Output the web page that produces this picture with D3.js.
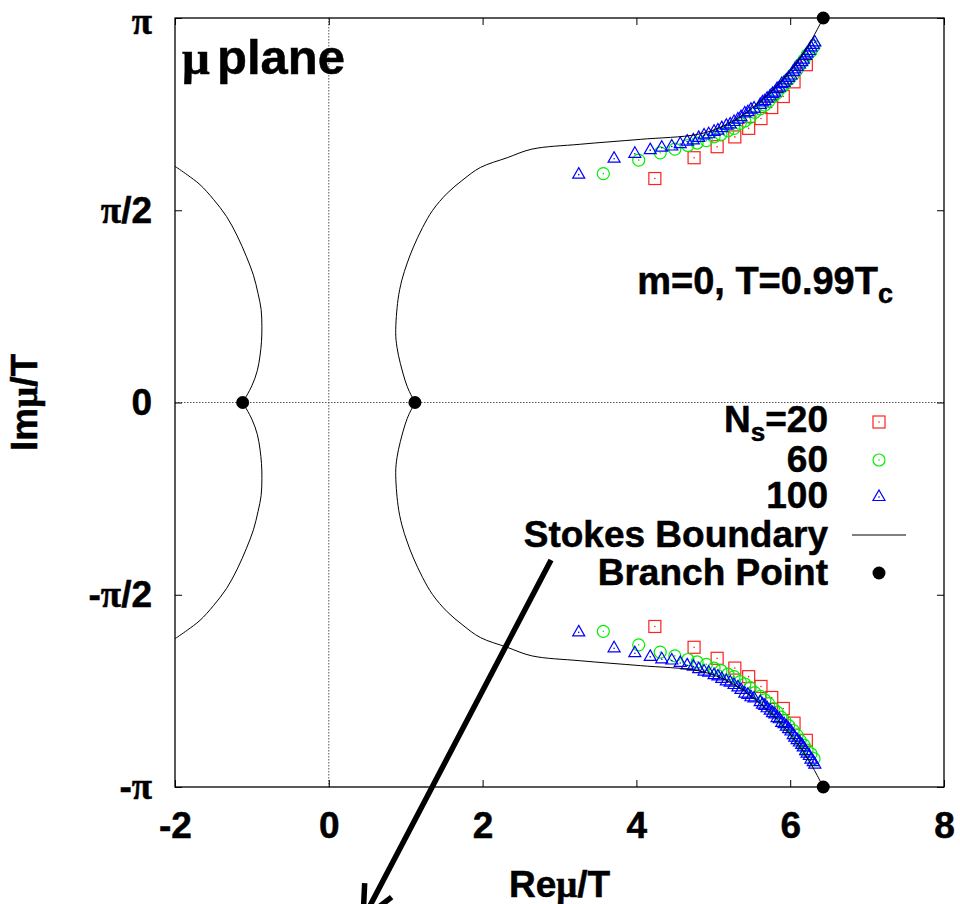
<!DOCTYPE html>
<html>
<head>
<meta charset="utf-8">
<script src="https://cdn.jsdelivr.net/npm/d3@7"></script>
<style>
  body { margin: 0; background: #fff; }
  svg { display: block; }
  text { font-family: "Liberation Sans", Arial, Helvetica, sans-serif; font-weight: bold; fill: #000; stroke: #000; stroke-width: 0.5px; }
  .greek { font-family: "Liberation Serif", "DejaVu Serif", serif; font-weight: bold; }
</style>
</head>
<body>
<svg id="chart" width="960" height="904"></svg>
<script>
// ---- axes ----
const xDomain = [-2, 8];
const xTicks = [-2, 0, 2, 4, 6, 8];
const xTickLabels = ["-2", "0", "2", "4", "6", "8"];
const yTicks = [-Math.PI, -Math.PI / 2, 0, Math.PI / 2, Math.PI];
const yTickLabels = ["-π", "-π/2", "0", "π/2", "π"];

// ---- Lee-Yang zeros in the upper half plane (conjugates are drawn below) ----
const ns20Re = [4.24, 4.75, 5.05, 5.28, 5.46, 5.62, 5.76, 5.91, 6.05, 6.21];
const ns20Im = [1.83, 2.00, 2.09, 2.17, 2.24, 2.32, 2.41, 2.50, 2.62, 2.76];

const ns60Re = [3.57, 4.03, 4.31, 4.50, 4.67, 4.79, 4.91, 5.01, 5.10, 5.19,
                5.27, 5.35, 5.41, 5.48, 5.54, 5.61, 5.67, 5.72, 5.78, 5.83,
                5.88, 5.93, 5.98, 6.04, 6.09, 6.13, 6.18, 6.22, 6.27, 6.31];
const ns60Im = [1.87, 1.98, 2.04, 2.07, 2.10, 2.12, 2.14, 2.17, 2.19, 2.22,
                2.24, 2.28, 2.30, 2.33, 2.37, 2.40, 2.43, 2.46, 2.50, 2.53,
                2.57, 2.60, 2.64, 2.68, 2.72, 2.76, 2.80, 2.84, 2.87, 2.91];

const ns100Re = [3.25, 3.71, 3.98, 4.18, 4.33, 4.46, 4.57, 4.66, 4.74, 4.81,
                 4.88, 4.94, 5.01, 5.06, 5.11, 5.17, 5.22, 5.27, 5.32, 5.36,
                 5.41, 5.45, 5.49, 5.53, 5.61, 5.64, 5.67, 5.70, 5.74, 5.77,
                 5.80, 5.83, 5.86, 5.89, 5.92, 5.95, 5.98, 6.01, 6.04, 6.06,
                 6.09, 6.12, 6.15, 6.17, 6.20, 6.22, 6.25, 6.27, 6.30, 6.32];
const ns100Im = [1.87, 2.00, 2.04, 2.07, 2.09, 2.10, 2.12, 2.14, 2.15, 2.17,
                 2.19, 2.20, 2.22, 2.23, 2.25, 2.27, 2.28, 2.30, 2.32, 2.34,
                 2.37, 2.38, 2.40, 2.41, 2.44, 2.46, 2.47, 2.49, 2.51, 2.53,
                 2.54, 2.57, 2.58, 2.61, 2.62, 2.64, 2.66, 2.68, 2.71, 2.73,
                 2.75, 2.77, 2.79, 2.81, 2.84, 2.86, 2.88, 2.91, 2.93, 2.95];

// ---- Stokes boundary, upper branches (mirrored for Im < 0) ----
const stokesRightRe = [1.12, 1.02, 0.93, 0.887, 0.87, 0.90, 0.95, 1.02, 1.10, 1.22,
                       1.35, 1.54, 1.745, 1.97, 2.32, 2.64, 3.27, 4.05, 4.79, 5.10,
                       5.39, 5.57, 5.80, 6.04, 6.22, 6.43];
const stokesRightIm = [0, 0.13, 0.32, 0.45, 0.57, 0.84, 1.00, 1.14, 1.27, 1.43,
                       1.57, 1.71, 1.82, 1.92, 2.00, 2.07, 2.11, 2.15, 2.19, 2.25,
                       2.35, 2.44, 2.57, 2.74, 2.90, Math.PI];
const stokesLeftRe = [-1.12, -1.00, -0.93, -0.895, -0.875, -0.87, -0.88, -0.92, -0.98,
                      -1.07, -1.19, -1.33, -1.50, -1.675, -1.84, -2.0];
const stokesLeftIm = [0, 0.137, 0.26, 0.38, 0.50, 0.62, 0.76, 0.89, 1.04,
                      1.19, 1.36, 1.52, 1.66, 1.78, 1.86, 1.93];

// ---- branch points ----
const branchRe = [-1.12, 1.12, 6.43, 6.43];
const branchIm = [0, 0, Math.PI, -Math.PI];

// ---- annotation arrow (start, tip) in plot units ----
const arrowRe = [2.89, 0.445];
const arrowIm = [-1.287, -4.22];

// ---- legend ----
const legendLabels = ["60", "100", "Stokes Boundary", "Branch Point"];

// ================= drawing =================
const svg = d3.select("#chart");
const M = { left: 175, top: 18, right: 944, bottom: 787 };
const SERIF = '"Liberation Serif", "DejaVu Serif", serif';
const SANS = '"Liberation Sans", Arial, sans-serif';

const x = d3.scaleLinear().domain(xDomain).range([M.left, M.right]);
const y = d3.scaleLinear().domain([-Math.PI, Math.PI]).range([M.bottom, M.top]);

const zip = (re, im) => re.map((r, i) => [r, im[i]]);
const withConjugates = (re, im) => {
  const up = zip(re, im);
  return up.concat(up.map(([r, v]) => [r, -v]));
};

// zero axes (dotted)
svg.append("line")
  .attr("x1", x(0)).attr("x2", x(0)).attr("y1", M.top).attr("y2", M.bottom)
  .attr("stroke", "#555").attr("stroke-width", 1).attr("stroke-dasharray", "1.5,1.5");
svg.append("line")
  .attr("x1", M.left).attr("x2", M.right).attr("y1", y(0)).attr("y2", y(0))
  .attr("stroke", "#555").attr("stroke-width", 1).attr("stroke-dasharray", "1.5,1.5");

// axes with inward ticks
const fontPx = 37;
const xAxis = d3.axisBottom(x).tickValues(xTicks).tickSize(-7).tickPadding(25)
  .tickFormat((d, i) => xTickLabels[i]);
const gx = svg.append("g").attr("transform", `translate(0,${M.bottom})`).call(xAxis);
const xTop = svg.append("g").attr("transform", `translate(0,${M.top})`)
  .call(d3.axisTop(x).tickValues(xTicks).tickSize(-7).tickFormat(""));
const yAxis = d3.axisLeft(y).tickValues(yTicks).tickSize(-7).tickPadding(23).tickFormat("");
const gy = svg.append("g").attr("transform", `translate(${M.left},0)`).call(yAxis);
const yRight = svg.append("g").attr("transform", `translate(${M.right},0)`)
  .call(d3.axisRight(y).tickValues(yTicks).tickSize(-7).tickFormat(""));

[gx, xTop, gy, yRight].forEach(g => {
  g.select(".domain").remove();
  g.selectAll(".tick line").attr("stroke", "#000").attr("stroke-width", 1);
});
gx.selectAll(".tick text")
  .attr("font-size", fontPx).attr("font-family", null).attr("fill", "#000")
  .style("font-family", SANS).style("font-weight", "bold");

// y tick labels with the Greek pi set in a serif face
gy.selectAll(".tick text").each(function (d, i) {
  const t = d3.select(this)
    .attr("font-size", fontPx).attr("font-family", null).attr("fill", "#000")
    .attr("dy", i === 4 ? "0.42em" : "0.32em")
    .style("font-family", SANS).style("font-weight", "bold")
    .text(null);
  yTickLabels[i].split(/(π)/).filter(s => s.length).forEach(part => {
    const ts = t.append("tspan").text(part);
    if (part === "π") ts.attr("class", "greek").style("font-family", SERIF);
  });
});

// frame
svg.append("rect")
  .attr("x", M.left).attr("y", M.top)
  .attr("width", M.right - M.left).attr("height", M.bottom - M.top)
  .attr("fill", "none").attr("stroke", "#000").attr("stroke-width", 1.3);

// markers
const plot = svg.append("g");
function drawSquares(pts, color) {
  const g = plot.append("g");
  g.selectAll("rect").data(pts).join("rect")
    .attr("x", d => x(d[0]) - 6).attr("y", d => y(d[1]) - 6)
    .attr("width", 12).attr("height", 12)
    .attr("fill", "none").attr("stroke", color).attr("stroke-width", 1.2);
  g.selectAll("circle").data(pts).join("circle")
    .attr("cx", d => x(d[0])).attr("cy", d => y(d[1])).attr("r", 0.8).attr("fill", color);
}
function drawCircles(pts, color) {
  const g = plot.append("g");
  g.selectAll("circle.o").data(pts).join("circle").attr("class", "o")
    .attr("cx", d => x(d[0])).attr("cy", d => y(d[1])).attr("r", 6)
    .attr("fill", "none").attr("stroke", color).attr("stroke-width", 1.2);
  g.selectAll("circle.c").data(pts).join("circle").attr("class", "c")
    .attr("cx", d => x(d[0])).attr("cy", d => y(d[1])).attr("r", 0.8).attr("fill", color);
}
function drawTriangles(pts, color) {
  const g = plot.append("g");
  g.selectAll("path").data(pts).join("path")
    .attr("d", d => `M${x(d[0])},${y(d[1]) - 6}l6,10.5h-12z`)
    .attr("fill", "none").attr("stroke", color).attr("stroke-width", 1.2);
  g.selectAll("circle").data(pts).join("circle")
    .attr("cx", d => x(d[0])).attr("cy", d => y(d[1]) + 1).attr("r", 0.8).attr("fill", color);
}
drawSquares(withConjugates(ns20Re, ns20Im), "#ff2020");
drawCircles(withConjugates(ns60Re, ns60Im), "#00ee00");
drawTriangles(withConjugates(ns100Re, ns100Im), "#0000ff");

// Stokes boundary
const line = d3.line().x(d => x(d[0])).y(d => y(d[1])).curve(d3.curveCatmullRom.alpha(0.5));
const right = zip(stokesRightRe, stokesRightIm);
const left = zip(stokesLeftRe, stokesLeftIm);
[right, right.map(([r, v]) => [r, -v]), left, left.map(([r, v]) => [r, -v])].forEach(pts => {
  plot.append("path").attr("d", line(pts))
    .attr("fill", "none").attr("stroke", "#000").attr("stroke-width", 1);
});

// branch points
plot.selectAll("circle.bp").data(zip(branchRe, branchIm)).join("circle").attr("class", "bp")
  .attr("cx", d => x(d[0])).attr("cy", d => y(d[1])).attr("r", 6.5).attr("fill", "#000");

// text labels
svg.append("text").attr("x", 182).attr("y", 74).attr("font-size", 49)
  .call(t => {
    t.append("tspan").attr("class", "greek").style("font-family", SERIF).text("μ");
    t.append("tspan").attr("x", 217).text("plane");
  });

svg.append("text").attr("x", 893).attr("y", 294).attr("font-size", 38).attr("text-anchor", "end")
  .call(t => {
    t.append("tspan").text("m=0, T=0.99T");
    t.append("tspan").attr("font-size", 27).attr("dy", 9).text("c");
  });

// axis titles
svg.append("text").attr("x", (M.left + M.right) / 2).attr("y", 897)
  .attr("font-size", fontPx).attr("text-anchor", "middle")
  .call(t => {
    t.append("tspan").text("Re");
    t.append("tspan").attr("class", "greek").style("font-family", SERIF).text("μ");
    t.append("tspan").text("/T");
  });
svg.append("text").attr("transform", `translate(37,${(M.top + M.bottom) / 2}) rotate(-90)`)
  .attr("font-size", fontPx).attr("text-anchor", "middle")
  .call(t => {
    t.append("tspan").text("Im");
    t.append("tspan").attr("class", "greek").style("font-family", SERIF).text("μ");
    t.append("tspan").text("/T");
  });

// legend
const lg = svg.append("g");
const textRight = 828, symX = 879;
const rowY = [422, 460, 496, 535, 573];
lg.append("text").attr("x", textRight).attr("y", rowY[0] + 10).attr("font-size", fontPx).attr("text-anchor", "end")
  .call(t => {
    t.append("tspan").text("N");
    t.append("tspan").attr("font-size", 26).attr("dy", 9).text("s");
    t.append("tspan").attr("dy", -9).text("=20");
  });
legendLabels.forEach((lab, i) => {
  lg.append("text").attr("x", textRight).attr("y", rowY[i + 1] + 12)
    .attr("font-size", fontPx).attr("text-anchor", "end").text(lab);
});
lg.append("rect").attr("x", symX - 6).attr("y", rowY[0] - 6).attr("width", 12).attr("height", 12)
  .attr("fill", "none").attr("stroke", "#ff2020").attr("stroke-width", 1.2);
lg.append("circle").attr("cx", symX).attr("cy", rowY[0]).attr("r", 0.8).attr("fill", "#ff2020");
lg.append("circle").attr("cx", symX).attr("cy", rowY[1]).attr("r", 6)
  .attr("fill", "none").attr("stroke", "#00ee00").attr("stroke-width", 1.2);
lg.append("circle").attr("cx", symX).attr("cy", rowY[1]).attr("r", 0.8).attr("fill", "#00ee00");
lg.append("path").attr("d", `M${symX},${rowY[2] - 6}l6,10.5h-12z`)
  .attr("fill", "none").attr("stroke", "#0000ff").attr("stroke-width", 1.2);
lg.append("circle").attr("cx", symX).attr("cy", rowY[2] + 1).attr("r", 0.8).attr("fill", "#0000ff");
lg.append("line").attr("x1", 852).attr("x2", 906).attr("y1", rowY[3]).attr("y2", rowY[3])
  .attr("stroke", "#000").attr("stroke-width", 1);
lg.append("circle").attr("cx", symX).attr("cy", rowY[4]).attr("r", 6.5).attr("fill", "#000");

// annotation arrow
const a0 = [x(arrowRe[0]), y(arrowIm[0])], a1 = [x(arrowRe[1]), y(arrowIm[1])];
const ang = Math.atan2(a0[1] - a1[1], a0[0] - a1[0]);
const headLen = 36, spread = 25 * Math.PI / 180;
const barb = s => [a1[0] + headLen * Math.cos(ang + s), a1[1] + headLen * Math.sin(ang + s)];
const b1 = barb(spread), b2 = barb(-spread);
svg.append("path")
  .attr("d", `M${a0[0]},${a0[1]}L${a1[0]},${a1[1]}M${b1[0]},${b1[1]}L${a1[0]},${a1[1]}L${b2[0]},${b2[1]}`)
  .attr("fill", "none").attr("stroke", "#000").attr("stroke-width", 5.5).attr("stroke-linecap", "butt");
</script>
</body>
</html>
